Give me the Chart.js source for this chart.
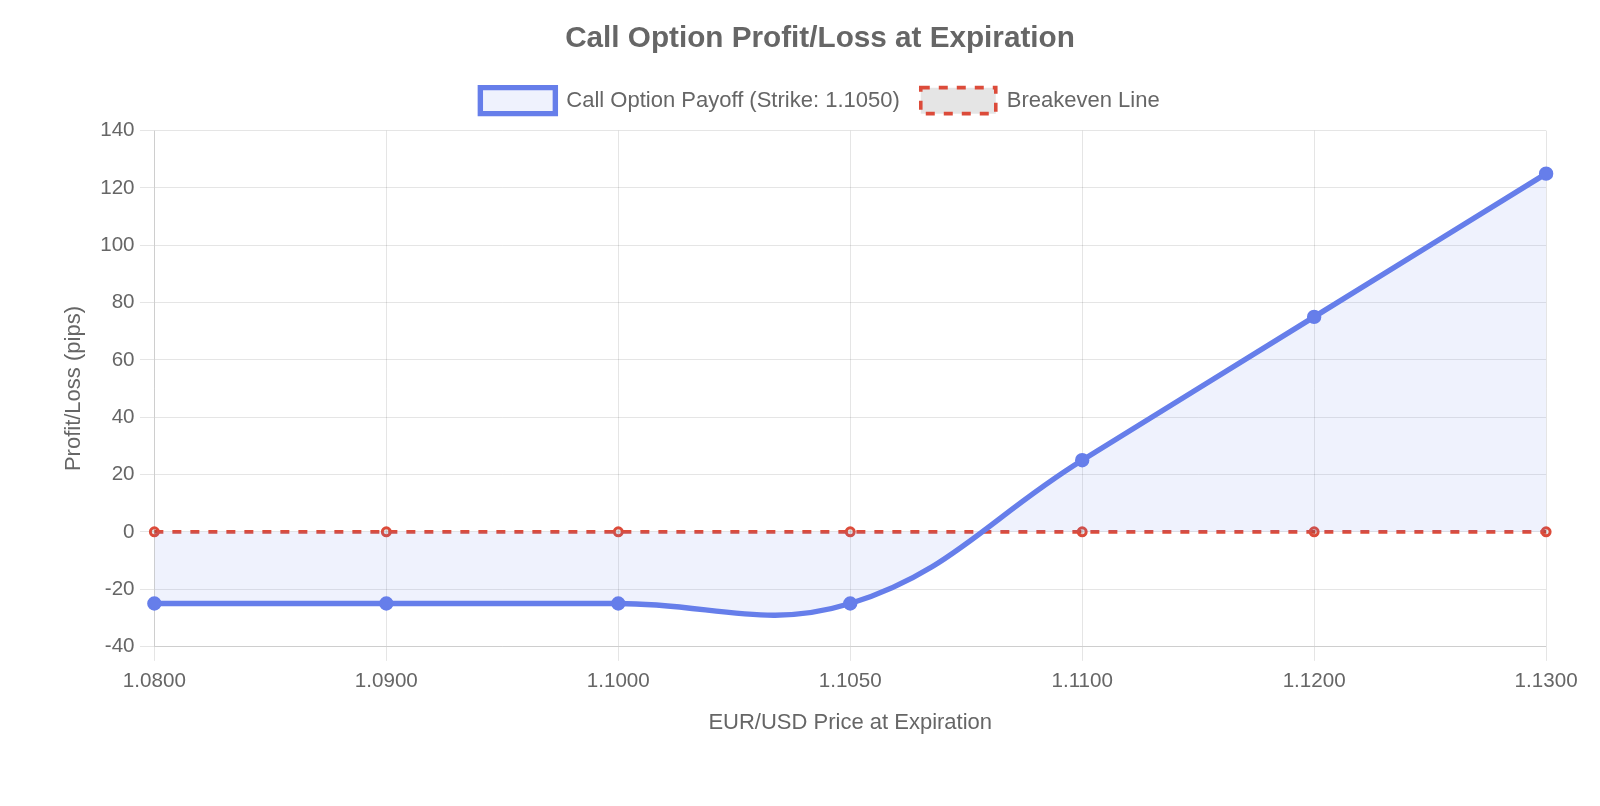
<!DOCTYPE html>
<html>
<head>
<meta charset="utf-8">
<script src="https://cdn.jsdelivr.net/npm/chart.js@4"></script>
<style>
  html, body { margin: 0; padding: 0; background: #fff; }
  #wrap { position: absolute; left: 54px; top: 0; width: 1532px; height: 743px; }
</style>
</head>
<body>
<div id="wrap"><canvas id="payoffChart"></canvas></div>
<script>
// EUR/USD prices at expiration
const prices = ['1.0800', '1.0900', '1.1000', '1.1050', '1.1100', '1.1200', '1.1300'];
// profit/loss in pips
const payoff = [-25, -25, -25, -25, 25, 75, 125];
const breakeven = [0, 0, 0, 0, 0, 0, 0];

// the reference looks like stock Chart.js sizes blown up ~1.8x
const S = 1.8;

Chart.defaults.font.family = "'Liberation Sans', Arial, sans-serif";
Chart.defaults.font.size = 22;
Chart.defaults.color = '#666';

// a bit more room under the legend than above it
const legendGap = {
    id: 'legendGap',
    beforeInit(chart) {
        const origFit = chart.legend.fit;
        chart.legend.fit = function fit() {
            origFit.bind(chart.legend)();
            this.height += 7;
        };
    }
};

var ctx = document.getElementById('payoffChart').getContext('2d');
var payoffChart = new Chart(ctx, {
    type: 'line',
    data: {
        labels: prices,
        datasets: [{
            label: 'Call Option Payoff (Strike: 1.1050)',
            data: payoff,
            borderColor: '#667eea',
            backgroundColor: 'rgba(102, 126, 234, 0.1)',
            borderWidth: 3 * S,
            fill: true,
            tension: 0.4,
            pointRadius: 3.5 * S,
            pointBorderWidth: 1 * S,
            pointBackgroundColor: '#667eea'
        }, {
            label: 'Breakeven Line',
            data: breakeven,
            borderColor: '#dc4b3a',
            backgroundColor: 'rgba(0, 0, 0, 0.1)',
            borderWidth: 2 * S,
            borderDash: [5 * S, 5 * S],
            fill: false,
            pointRadius: 4,
            pointBorderWidth: 3,
            pointBackgroundColor: 'rgba(0, 0, 0, 0.1)'
        }]
    },
    options: {
        responsive: true,
        maintainAspectRatio: false,
        animation: false,
        plugins: {
            title: {
                display: true,
                text: 'Call Option Profit/Loss at Expiration',
                font: { size: 29.7, weight: 'bold' },
                padding: { top: 21, bottom: 10 }
            },
            legend: {
                labels: {
                    boxWidth: 75,
                    boxHeight: 26,
                    padding: 21
                }
            }
        },
        scales: {
            x: {
                title: {
                    display: true,
                    text: 'EUR/USD Price at Expiration',
                    padding: { top: 7, bottom: 4 * S }
                },
                grid: { tickLength: 8 * S },
                ticks: { padding: 8.4, font: { size: 20.6 } }
            },
            y: {
                min: -40,
                max: 140,
                title: {
                    display: true,
                    text: 'Profit/Loss (pips)',
                    padding: 4 * S
                },
                grid: { tickLength: 8 * S },
                ticks: { stepSize: 20, padding: 3 * S, font: { size: 20.6 } }
            }
        }
    },
    plugins: [legendGap]
});
</script>
</body>
</html>
